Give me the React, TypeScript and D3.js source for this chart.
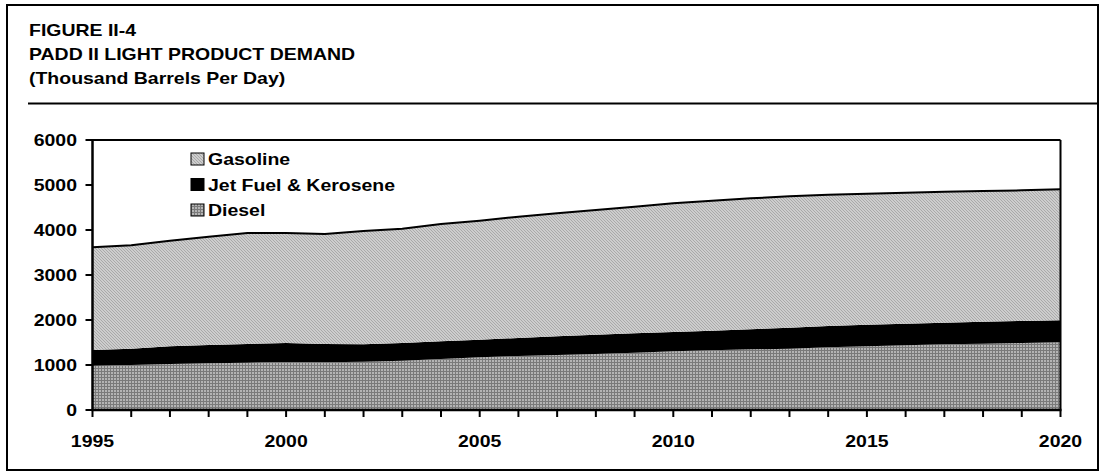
import React from "react";
import * as d3 from "d3";

const years = d3.range(1995, 2021);
const diesel = [985, 1000, 1022, 1037, 1052, 1067, 1059, 1074, 1096, 1133, 1170, 1200, 1222, 1244, 1274, 1304, 1326, 1348, 1363, 1393, 1415, 1437, 1459, 1474, 1489, 1504];
const jetFuel = [348, 363, 393, 407, 415, 422, 408, 385, 393, 393, 393, 400, 415, 430, 430, 429, 437, 449, 467, 474, 481, 482, 482, 489, 489, 489];
const gasoline = [2282, 2297, 2347, 2408, 2466, 2444, 2444, 2519, 2541, 2607, 2644, 2696, 2733, 2770, 2815, 2860, 2889, 2907, 2918, 2918, 2911, 2911, 2911, 2904, 2904, 2911];
const yTicks = [0, 1000, 2000, 3000, 4000, 5000, 6000];
const xLabels = [1995, 2000, 2005, 2010, 2015, 2020];
const titleLines = ["FIGURE II-4", "PADD II LIGHT PRODUCT DEMAND", "(Thousand Barrels Per Day)"];
const legendItems = [
  { key: "gasoline", label: "Gasoline" },
  { key: "jet", label: "Jet Fuel & Kerosene" },
  { key: "diesel", label: "Diesel" },
];

const FONT = "'Liberation Sans', Arial, Helvetica, sans-serif";
const FS = 16.5;
const SX = 1.18;

const fills: Record<string, string> = {
  gasoline: "url(#patGas)",
  jet: "#000",
  diesel: "url(#patDiesel)",
};

function T({ x, y, children, anchor = "start" }: { x: number; y: number; children: React.ReactNode; anchor?: string }) {
  return (
    <text
      transform={`translate(${x},${y}) scale(${SX},1)`}
      fontFamily={FONT}
      fontWeight="bold"
      fontSize={FS}
      textAnchor={anchor as any}
      fill="#000"
    >
      {children}
    </text>
  );
}

export default function App() {
  const left = 92.5, right = 1060.5, top = 140, bottom = 410;
  const x = d3.scaleLinear().domain([1995, 2020]).range([left, right]);
  const y = d3.scaleLinear().domain([0, 6000]).range([bottom, top]);

  const rows = years.map((yr, i) => ({ year: yr, diesel: diesel[i], jet: jetFuel[i], gasoline: gasoline[i] }));
  const stack = d3.stack<any>().keys(["diesel", "jet", "gasoline"]);
  const series = stack(rows);
  const area = d3
    .area<any>()
    .x((d) => x(d.data.year))
    .y0((d) => y(d[0]))
    .y1((d) => y(d[1]));
  const topLine = d3
    .line<any>()
    .x((d) => x(d.data.year))
    .y((d) => y(d[1]));

  return (
    <svg width={1107} height={476} style={{ position: "absolute", left: 0, top: 0, background: "#fff" }}>
      <defs>
        <pattern id="patGas" width="3" height="3" patternUnits="userSpaceOnUse">
          <rect width="3" height="3" fill="#cdcdcd" />
          <rect x="0" y="0" width="1" height="1" fill="#a9a9a9" />
          <rect x="1" y="1" width="1" height="1" fill="#a9a9a9" />
          <rect x="2" y="2" width="1" height="1" fill="#a9a9a9" />
        </pattern>
        <pattern id="patDiesel" width="3" height="3" patternUnits="userSpaceOnUse">
          <rect width="3" height="3" fill="#7a7a7a" />
          <rect x="0" y="0" width="2" height="2" fill="#b4b4b4" />
        </pattern>
      </defs>

      {/* outer frame */}
      <rect x={7} y={5} width={1091} height={465} fill="none" stroke="#000" strokeWidth={2} />

      {/* title */}
      {titleLines.map((t, i) => (
        <T key={i} x={29} y={36 + i * 24}>{t}</T>
      ))}
      <line x1={28} x2={1098} y1={103.5} y2={103.5} stroke="#000" strokeWidth={2} />

      {/* areas */}
      {series.map((s) => (
        <path key={s.key} d={area(s) || ""} fill={fills[s.key === "jet" ? "jet" : s.key]} stroke="none" />
      ))}
      <path d={topLine(series[2]) || ""} fill="none" stroke="#000" strokeWidth={2} />

      {/* plot frame top/right */}
      <line x1={left} x2={right} y1={top} y2={top} stroke="#000" strokeWidth={2} />
      <line x1={right} x2={right} y1={top} y2={bottom} stroke="#000" strokeWidth={2} />

      {/* y axis */}
      <line x1={left} x2={left} y1={top - 1} y2={bottom + 1} stroke="#000" strokeWidth={2.5} />
      {yTicks.map((v) => (
        <g key={v}>
          <line x1={left - 7} x2={left} y1={y(v)} y2={y(v)} stroke="#000" strokeWidth={2} />
          <T x={77} y={y(v) + 6} anchor="end">{v}</T>
        </g>
      ))}

      {/* x axis */}
      <line x1={left - 1} x2={right + 1} y1={bottom} y2={bottom} stroke="#000" strokeWidth={2.5} />
      {years.map((yr) => (
        <line key={yr} x1={x(yr)} x2={x(yr)} y1={bottom} y2={bottom + 7} stroke="#000" strokeWidth={2} />
      ))}
      {xLabels.map((yr) => (
        <T key={yr} x={x(yr)} y={447} anchor="middle">{yr}</T>
      ))}

      {/* legend */}
      {legendItems.map((it, i) => {
        const by = 165 + i * 25.5;
        return (
          <g key={it.key}>
            <rect x={191} y={by - 12} width={13} height={12} fill={fills[it.key]} stroke="#000" strokeWidth={1} />
            <T x={208} y={by}>{it.label}</T>
          </g>
        );
      })}
    </svg>
  );
}
